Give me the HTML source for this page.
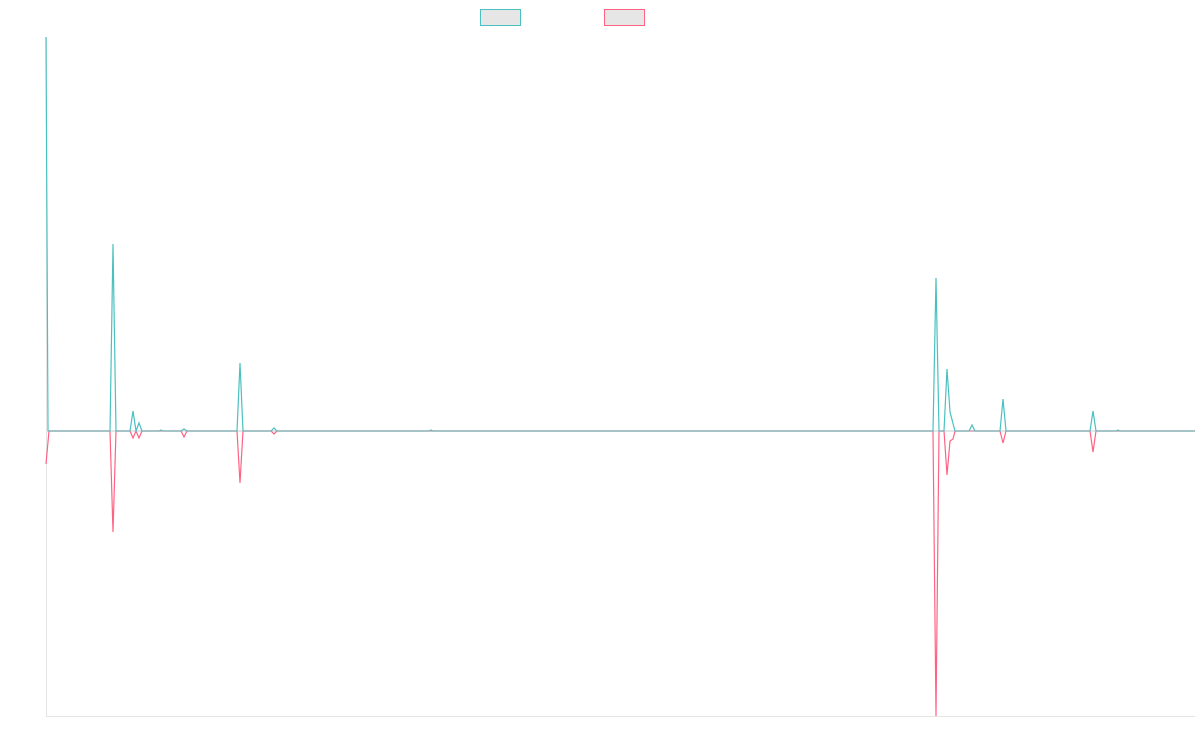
<!DOCTYPE html>
<html><head><meta charset="utf-8"><style>html,body{margin:0;padding:0;background:#fff;}svg{display:block;}</style></head>
<body>
<svg width="1200" height="750" viewBox="0 0 1200 750" xmlns="http://www.w3.org/2000/svg">
<rect x="480.5" y="9.5" width="40" height="16" fill="#e6e6e6" stroke="#4bc0c0" stroke-width="1"/>
<rect x="604.5" y="9.5" width="40" height="16" fill="#e6e6e6" stroke="#ff6384" stroke-width="1"/>
<line x1="46.5" y1="37" x2="46.5" y2="716" stroke="#e5e5e5" stroke-width="1"/>
<line x1="46" y1="716.5" x2="1195" y2="716.5" stroke="#e5e5e5" stroke-width="1"/>
<polyline fill="none" stroke="#ff6384" stroke-width="1.2" points="46,464 49,431 110,431 113,532 116,431 130,431 133,438 136,431 139,438 142,431 181,431 184,437 187,431 237,431 240,483 243,431 271,431 274,434 277,431 933,431 936,716 939,431 944,431 947,475 950,441 953,439 955,431 1000,431 1003,443 1006,431 1090,431 1093,452 1096,431 1195,431"/>
<polyline fill="none" stroke="#4bc0c0" stroke-width="1.2" points="46,37 48,431 110,431 113,244 116,431 130,431 133,411 136,431 139,423 142,431 159,431 161,430 163,431 181,431 184,429 187,431 237,431 240,363 243,431 271,431 274,428 277,431 429,431 431,430 433,431 933,431 936,278 939,431 944,431 947,369 950,412 955,431 969,431 972,425 975,431 1000,431 1003,399 1006,431 1090,431 1093,411 1096,431 1116,431 1118,430 1120,431 1195,431"/>
<line x1="48" y1="431" x2="1195" y2="431" stroke="#9ab0b4" stroke-width="1" opacity="0.6"/>
</svg>
</body></html>
